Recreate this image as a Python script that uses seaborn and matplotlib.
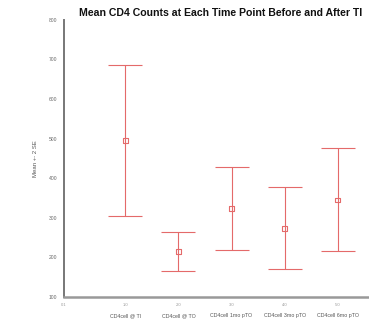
import numpy as np
import matplotlib
matplotlib.use("Agg")
import matplotlib.pyplot as plt
import matplotlib.transforms as mtransforms
import seaborn as sns

# values (mean +- 2 SE)
categories = ['CD4cell @ TI', 'CD4cell @ TO', 'CD4cell 1mo pTO', 'CD4cell 3mo pTO', 'CD4cell 6mo pTO']
positions = [1, 2, 3, 4, 5]
means = [495, 214, 324, 272, 345]
lower = [304, 165, 219, 171, 215]
upper = [687, 264, 429, 377, 477]
pos_labels = ['0.1', '1.0', '2.0', '3.0', '4.0', '5.0']
y_ticks = [100, 200, 300, 400, 500, 600, 700, 800]

sns.set_style('white')
plt.rcParams['font.family'] = ['Liberation Sans', 'DejaVu Sans']

red = '#e46a6a'

fig = plt.figure(figsize=(3.69, 3.21), dpi=100)
ax = fig.add_axes([0.173, 0.075, 0.86, 0.863])

means_a = np.array(means)
yerr = [means_a - np.array(lower), np.array(upper) - means_a]
ax.errorbar(positions, means, yerr=yerr, fmt='none', ecolor=red,
            elinewidth=0.8, capsize=12.5, capthick=0.8)
sns.scatterplot(x=positions, y=means, marker='s', s=12, facecolor='none',
                edgecolor=red, linewidth=0.8, ax=ax, zorder=3)

ax.set_xlim(-0.16, 5.82)
ax.set_ylim(100, 800)
ax.set_yticks(y_ticks)
ax.set_yticklabels([str(v) for v in y_ticks], fontsize=3.6, color='#666666')
ax.set_xticks([-0.16] + positions)
ax.set_xticklabels(pos_labels, fontsize=3, color='#999999')
ax.tick_params(axis='both', length=2.5, width=0.6, color='#777777', pad=2)

# category names below the numeric tick labels
trans = mtransforms.blended_transform_factory(ax.transData, ax.transAxes)
for p, c in zip(positions, categories):
    ax.text(p, -0.067, c, transform=trans, ha='center', va='center',
            fontsize=3.8, color='#555555')

ax.set_ylabel('Mean +- 2 SE', fontsize=4.3, color='#555555', labelpad=8)

for side in ['top', 'right']:
    ax.spines[side].set_visible(False)
ax.spines['left'].set_color('#777777')
ax.spines['left'].set_linewidth(1.4)
ax.spines['bottom'].set_color('#999999')
ax.spines['bottom'].set_linewidth(1.8)

fig.text(0.597, 0.958, 'Mean CD4 Counts at Each Time Point Before and After TI',
         ha='center', va='center', fontsize=7.6, fontweight='bold', color='#111111')

fig.savefig('out.png', dpi=100)
